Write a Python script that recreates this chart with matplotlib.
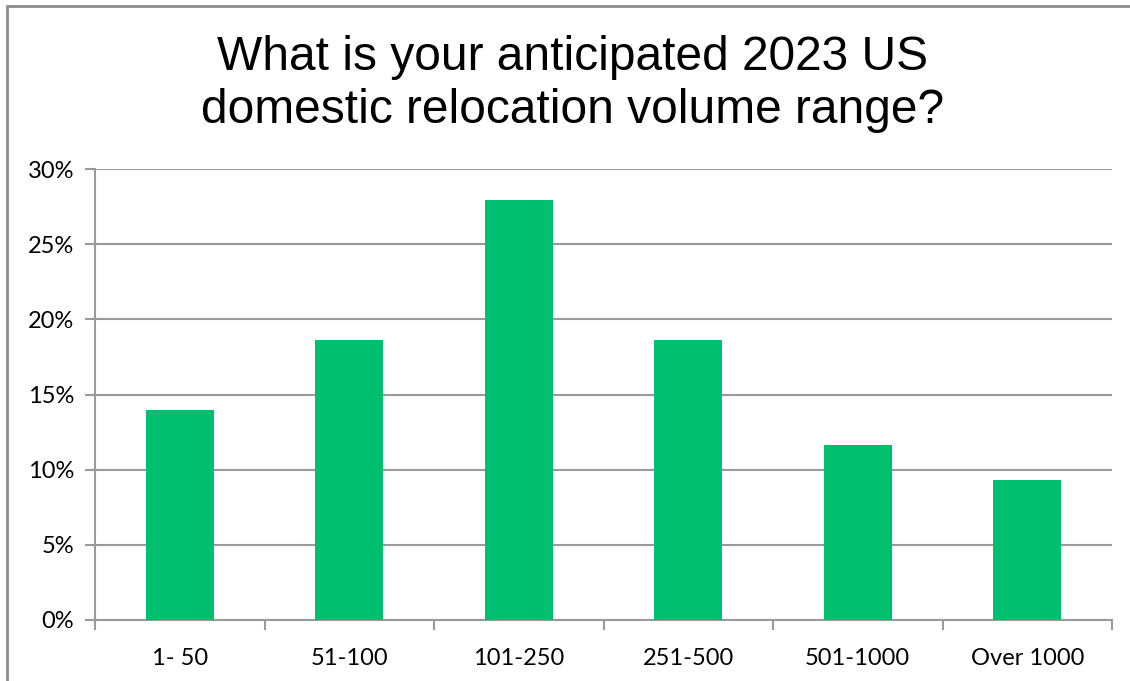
import matplotlib.pyplot as plt
from matplotlib.patches import Rectangle

# survey answers (share of respondents)
categories = ['1- 50', '51-100', '101-250', '251-500', '501-1000', 'Over 1000']
values = [13.95, 18.60, 27.91, 18.60, 11.63, 9.30]
yticks = [0, 5, 10, 15, 20, 25, 30]
ytick_labels = ['0%', '5%', '10%', '15%', '20%', '25%', '30%']

bar_color = '#00BF6F'
grey = '#9A9A9A'

fig = plt.figure(figsize=(11.3, 6.81), dpi=100)
ax = fig.add_axes([95 / 1130, 1 - 620 / 681, (1112 - 95) / 1130, (620 - 169) / 681])

# outer chart border
fig.patches.append(Rectangle((7 / 1130, -0.1), 1.2, 1.1 - 6 / 681, transform=fig.transFigure,
                             fill=False, edgecolor='#8C8C8C', linewidth=2))

x = range(len(categories))
ax.bar(x, values, width=0.4, color=bar_color, zorder=3)

ax.set_xlim(-0.5, len(categories) - 0.5)
ax.set_ylim(0, 30)
ax.set_yticks(yticks)
ax.set_yticklabels(ytick_labels, fontsize=17, family='Lato')
ax.set_xticks(list(x))
ax.set_xticklabels(categories, fontsize=17, family='Lato')
ax.tick_params(axis='x', length=0, pad=20)
ax.tick_params(axis='y', length=7, color=grey, width=1.5, pad=8)

# category separator ticks on x axis
ax.set_xticks([i - 0.5 for i in range(len(categories) + 1)], minor=True)
ax.tick_params(axis='x', which='minor', length=7, color=grey, width=1.5, direction='out')

ax.grid(axis='y', color=grey, linewidth=1.5, zorder=0)
for s in ['top', 'right']:
    ax.spines[s].set_visible(False)
for s in ['left', 'bottom']:
    ax.spines[s].set_color(grey)
    ax.spines[s].set_linewidth(1.5)

fig.text(573 / 1130, 1 - 84 / 681, 'What is your anticipated 2023 US\ndomestic relocation volume range?',
         ha='center', va='center', fontsize=34.5, family='Liberation Sans', linespacing=1.22)

fig.savefig('out.png', dpi=100)
